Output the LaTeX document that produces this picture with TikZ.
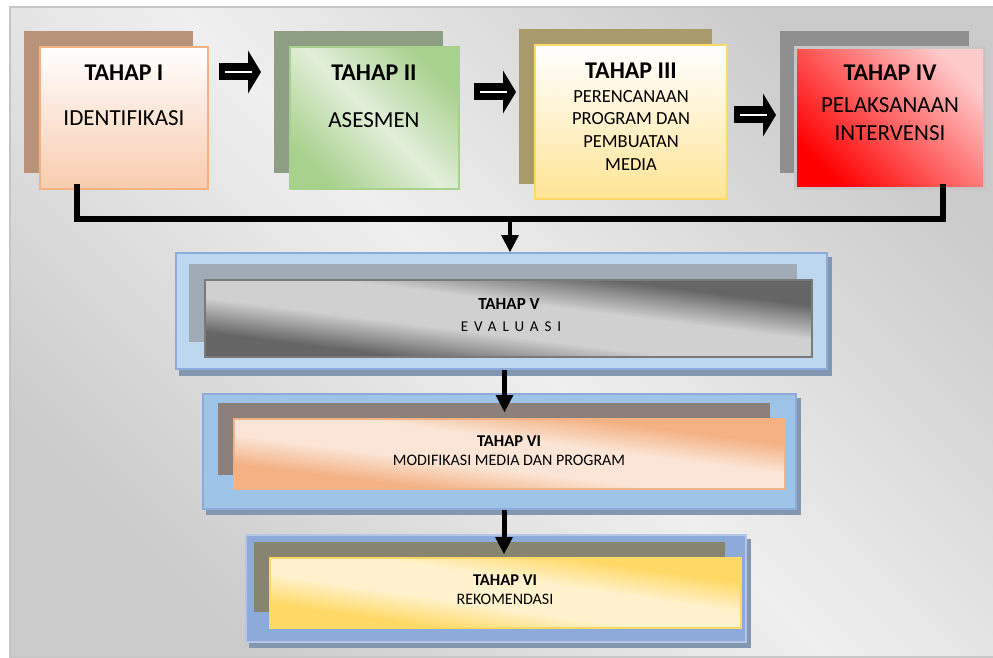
\documentclass[tikz,border=0pt]{standalone}
\usepackage{fontspec}
\setmainfont{Carlito}
\usetikzlibrary{arrows.meta}

\definecolor{bgdark}{HTML}{CBCBCB}
\definecolor{bglight}{HTML}{EFEFEF}
\definecolor{bgline}{HTML}{C6C6C6}
\definecolor{sh1}{HTML}{B8937A}
\definecolor{sh2}{HTML}{8E9E85}
\definecolor{sh3}{HTML}{A99A6B}
\definecolor{sh4}{HTML}{8F8F8F}
\definecolor{sh5}{HTML}{A0ABB6}
\definecolor{sh6}{HTML}{8D7F79}
\definecolor{sh7}{HTML}{878470}
\definecolor{peach}{HTML}{F4B183}
\definecolor{peachlt}{HTML}{FBE5D6}
\definecolor{green}{HTML}{A9D18E}
\definecolor{greenlt}{HTML}{E2EFDA}
\definecolor{gold}{HTML}{FFD966}
\definecolor{goldlt}{HTML}{FFF2CC}
\definecolor{pink}{HTML}{FFCACA}
\definecolor{slate}{HTML}{656565}
\definecolor{slatelt}{HTML}{D0D0D0}
\definecolor{slateline}{HTML}{7A7A7A}
\definecolor{blue5}{HTML}{BDD7EE}
\definecolor{blue6}{HTML}{9DC3E6}
\definecolor{blue7}{HTML}{8EAADB}
\definecolor{blueline}{HTML}{8EAADB}
\definecolor{bluelt}{HTML}{B4C7E7}
\definecolor{blueshadow}{HTML}{8497B0}

\pgfdeclareverticalshading{bandslate}{100bp}{color(0bp)=(slate); color(26bp)=(slate);
  color(42bp)=(slatelt); color(58bp)=(slatelt); color(74bp)=(slate); color(100bp)=(slate)}
\pgfdeclareverticalshading{bandpeach}{100bp}{color(0bp)=(peach); color(27bp)=(peach);
  color(42bp)=(peachlt); color(58bp)=(peachlt); color(73bp)=(peach); color(100bp)=(peach)}
\pgfdeclareverticalshading{bandgold}{100bp}{color(0bp)=(gold); color(27bp)=(gold);
  color(42bp)=(goldlt); color(58bp)=(goldlt); color(73bp)=(gold); color(100bp)=(gold)}

% diagonal band: #1 centre, #2 width, #3 height, #4 shading
\newcommand\bandfill[4]{%
  \begin{scope}[transform canvas={shift={(#1)}, xscale=#2/#3}]
    \shade[shading=#4, shading angle=-45] (-#3/2,-#3/2) rectangle (#3/2,#3/2);
  \end{scope}}

\begin{document}
\begin{tikzpicture}[x=1pt, y=-1pt,
  card/.style={draw=#1, line width=2, inner sep=0pt},
  hd/.style={anchor=north, inner sep=0pt, font=\bfseries\fontsize{24}{28}\selectfont},
  txt/.style={anchor=north, inner sep=0pt, align=center, font=\fontsize{23}{28}\selectfont},
  hdsm/.style={anchor=north, inner sep=0pt, font=\bfseries\fontsize{16.5}{20}\selectfont},
  txtsm/.style={anchor=north, inner sep=0pt, font=\fontsize{16}{20}\selectfont},
  bus/.style={line width=6},
  down/.style={line width=5, -{Triangle[length=17pt, width=18pt, line width=0pt]}},
  fat/.style={line width=17, -{Triangle[length=13pt, width=43pt, line width=0pt]}}]
  \useasboundingbox (0,0) rectangle (993,658);
  % background panel
  \shade[top color=bgdark, bottom color=bgdark, middle color=bglight, shading angle=-45] (10,7) rectangle (996,657);
  \draw[bgline, line width=1.5] (10,7) rectangle (996,657);

  % stages I - IV
  \fill[sh1] (24,31) rectangle (193,173);
  \fill[sh2] (274,31) rectangle (443,173);
  \fill[sh3] (519,29) rectangle (712,184);
  \fill[sh4] (780,31) rectangle (969,173);
  \node[card=peach, minimum width=168, minimum height=142, top color=white, bottom color=peach!65, middle color=peachlt] (b1) at (124,118) {};
  \node[card=green, minimum width=169, minimum height=142, top color=green, bottom color=green, middle color=greenlt, shading angle=-45] (b2) at (374.5,118) {};
  \node[card=gold, minimum width=192, minimum height=154, top color=white, bottom color=gold!70, middle color=goldlt] (b3) at (631,122) {};
  \node[card=bgline, line width=3, minimum width=189, minimum height=141, top color=pink, bottom color=red, shading angle=-45] (b4) at (890,118) {};

  \node[hd] (h1) at (124,65) {TAHAP I};
  \node[txt] (t1) at (124,110) {IDENTIFIKASI};
  \node[hd] (h2) at (374,65) {TAHAP II};
  \node[txt] (t2) at (374,112) {ASESMEN};
  \node[hd] (h3) at (631,63) {TAHAP III};
  \node[txt, font=\fontsize{18.5}{22.7}\selectfont] (t3) at (631,90) {PERENCANAAN\\PROGRAM DAN\\PEMBUATAN\\MEDIA};
  \node[hd] (h4) at (890,65) {TAHAP IV};
  \node[txt] (t4) at (890,97) {PELAKSANAAN\\INTERVENSI};

  % block arrows between the stages
  \foreach \n/\x/\y in {1/219/72, 2/474/92, 3/734/115}{
    \coordinate (p\n) at (\x,\y);
    \draw[fat] (p\n) -- ++(42,0);
    \draw[white, line width=2.5] ([xshift=6pt]p\n) -- ++(27,0); }

  % stages V - VII
  \fill[blueshadow] (179,257) rectangle (832,376);
  \node[draw=blueline, fill=blue5, line width=2, minimum width=651, minimum height=116] (o5) at (501.5,311) {};
  \fill[sh5] (189,264) rectangle (797,342);
  \bandfill{508.5,318.5}{607}{77}{bandslate}
  \node[card=slateline, minimum width=607, minimum height=77] (b5) at (508.5,318.5) {};
  \node[hdsm, font=\bfseries\fontsize{17}{20}\selectfont] (h5) at (509,298) {TAHAP V};
  \node[txtsm, font=\fontsize{15}{18}\selectfont\addfontfeatures{LetterSpace=40}] (t5) at (511,322) {EVALUASI};

  \fill[blueshadow] (206,398) rectangle (801,515);
  \node[draw=blueline, fill=blue6, line width=2, minimum width=593, minimum height=115] (o6) at (499.5,451.5) {};
  \fill[sh6] (218,403) rectangle (770,475);
  \bandfill{509.5,454}{551}{70}{bandpeach}
  \node[card=peach, minimum width=551, minimum height=70] (b6) at (509.5,454) {};
  \node[hdsm] (h6) at (509,436) {TAHAP VI};
  \node[txtsm] (t6) at (509,455) {MODIFIKASI MEDIA DAN PROGRAM};

  \fill[blueshadow] (249,539) rectangle (751,648);
  \node[draw=bluelt, fill=blue7, line width=2, minimum width=500, minimum height=107] (o7) at (496,588.5) {};
  \fill[sh7] (254,542) rectangle (725,612);
  \bandfill{505.5,593}{471}{70}{bandgold}
  \node[card=gold, minimum width=471, minimum height=70] (b7) at (505.5,593) {};
  \node[hdsm] (h7) at (505,575) {TAHAP VI};
  \node[txtsm] (t7) at (505,594) {REKOMENDASI};

  % connectors
  \coordinate (l1) at (76.5,184);
  \coordinate (l4) at (942.5,184);
  \coordinate (hub) at (510,219);
  \draw[bus] (l1) |- (hub) -| (l4);
  \draw[down, line width=4] (hub) -- (hub |- o5.north);
  \path (o5.south) ++(3,0) coordinate (v5);
  \path (o6.south) ++(4.5,0) coordinate (v6);
  \draw[down, shorten >=6pt] (v5) -- (v5 |- b6.north);
  \draw[down, shorten >=3pt] (v6) -- (v6 |- b7.north);
\end{tikzpicture}
\end{document}
